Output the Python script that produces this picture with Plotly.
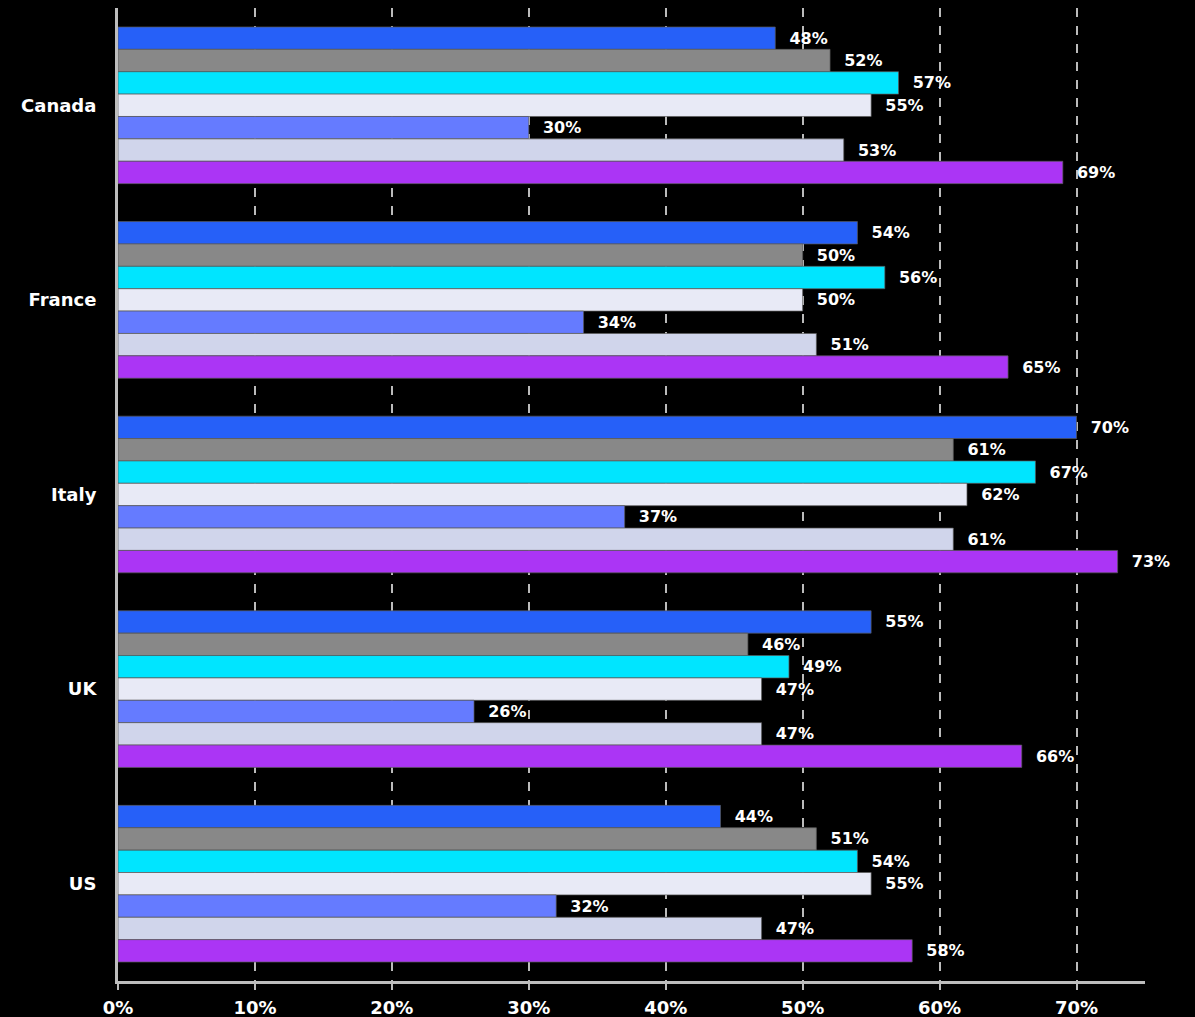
import plotly.graph_objects as go

# Countries shown on the category axis (top to bottom)
countries = ["Canada", "France", "Italy", "UK", "US"]

# Percentage values for each of the seven series, per country
series_1 = [48, 54, 70, 55, 44]
series_2 = [52, 50, 61, 46, 51]
series_3 = [57, 56, 67, 49, 54]
series_4 = [55, 50, 62, 47, 55]
series_5 = [30, 34, 37, 26, 32]
series_6 = [53, 51, 61, 47, 47]
series_7 = [69, 65, 73, 66, 58]

x_tick_values = [0, 10, 20, 30, 40, 50, 60, 70]
x_tick_labels = ["0%", "10%", "20%", "30%", "40%", "50%", "60%", "70%"]

all_series = [series_1, series_2, series_3, series_4, series_5, series_6, series_7]
colors = ["#2660F8", "#888888", "#00E5FF", "#E8EAF6", "#657BFF", "#D0D5EB", "#AB35F5"]

FONT = "DejaVu Sans"
pad = "\u00a0\u00a0"

fig = go.Figure()
for i, (vals, col) in enumerate(zip(all_series, colors)):
    fig.add_trace(go.Bar(
        name=f"series_{i + 1}",
        y=countries,
        x=vals,
        orientation="h",
        marker=dict(color=col, line=dict(color="rgba(90,90,90,0.7)", width=1)),
        text=[f"{pad}{v}%" for v in vals],
        textposition="outside",
        textfont=dict(color="white", size=16, family=FONT, weight="bold"),
        cliponaxis=False,
        hoverinfo="x+y",
    ))

fig.update_layout(
    width=1195,
    height=1017,
    paper_bgcolor="black",
    plot_bgcolor="black",
    barmode="group",
    bargap=0.195,
    bargroupgap=0,
    showlegend=False,
    margin=dict(l=118, r=50, t=8, b=36),
    uniformtext=dict(mode=False),
)

fig.update_xaxes(
    range=[0, 75],
    tickvals=x_tick_values,
    ticktext=x_tick_labels,
    automargin=False,
    showgrid=True,
    gridcolor="#BBBBBB",
    gridwidth=1.5,
    griddash="dash",
    showline=True,
    linecolor="#BDBDBD",
    linewidth=3,
    ticks="outside",
    ticklen=6,
    tickwidth=1.5,
    tickcolor="#BBBBBB",
    ticklabelstandoff=2,
    tickfont=dict(color="white", size=18, family=FONT, weight="bold"),
    zeroline=False,
)

fig.update_yaxes(
    autorange="reversed",
    automargin=False,
    showgrid=False,
    showline=True,
    linecolor="#BDBDBD",
    linewidth=3,
    ticks="",
    ticklabelstandoff=15,
    tickfont=dict(color="white", size=18, family=FONT, weight="bold"),
)

fig.write_html("out.html")
